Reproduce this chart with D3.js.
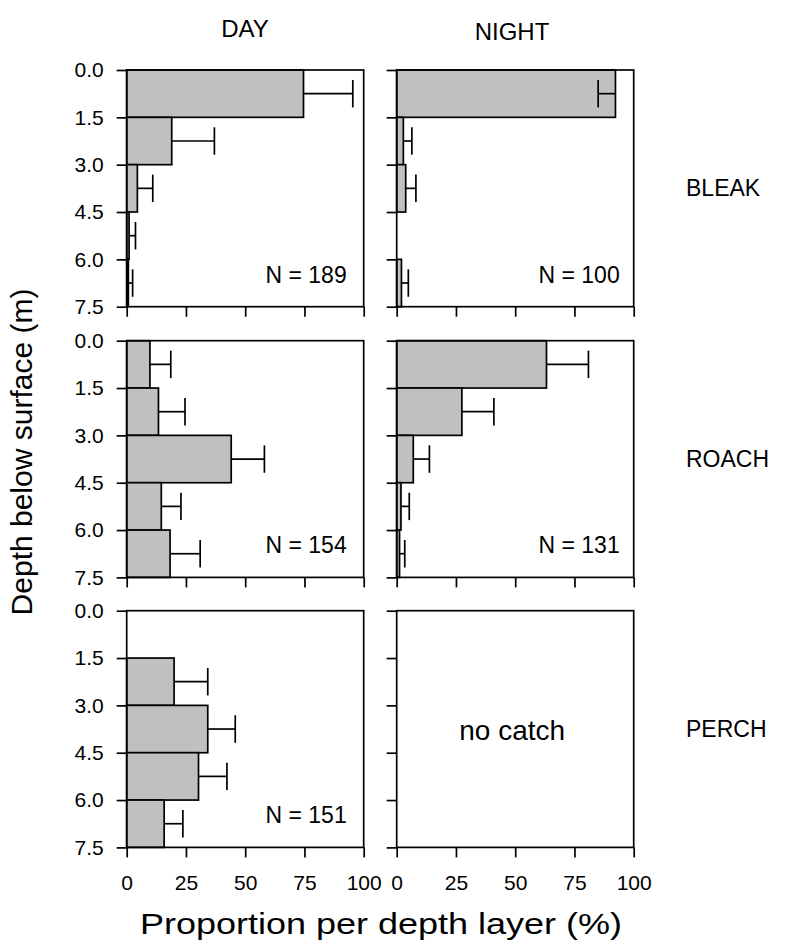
<!DOCTYPE html>
<html>
<head>
<meta charset="utf-8">
<script src="https://cdn.jsdelivr.net/npm/d3@7"></script>
<style>
  body { margin: 0; background: #fff; }
  text { font-family: "Liberation Sans", Arial, Helvetica, sans-serif; fill: #000; }
</style>
</head>
<body>
<svg id="chart" width="790" height="947"></svg>
<script>
// Depth layers (m) and axis ticks
const depthEdges = [0, 1.5, 3, 4.5, 6, 7.5];
const depthTickLabels = ["0.0", "1.5", "3.0", "4.5", "6.0", "7.5"];
const pctTicks = [0, 25, 50, 75, 100];

const periods = ["DAY", "NIGHT"];
const species = ["BLEAK", "ROACH", "PERCH"];

// Proportion of catch per depth layer (%), top layer first,
// and the end value of each error bar (null = no bar drawn)
const bleakDay      = [74.6, 19.0, 4.5, 1.0, 0.7];
const bleakDayErr   = [95.4, 37.0, 11.0, 3.7, 2.5];
const bleakNight    = [92.3, 2.8, 3.8, 0, 2.0];
const bleakNightErr = [85.0, 6.4, 8.1, null, 4.9];
const roachDay      = [9.8, 13.4, 44.1, 14.6, 18.3];
const roachDayErr   = [18.6, 24.6, 58.1, 22.9, 31.0];
const roachNight    = [63.2, 27.5, 7.0, 1.8, 1.2];
const roachNightErr = [80.9, 41.0, 13.8, 5.3, 3.4];
const perchDay      = [0, 20.0, 34.2, 30.3, 15.8];
const perchDayErr   = [null, 34.2, 45.8, 42.3, 23.7];

// Sample sizes per species (rows) and period (columns)
const sampleN = [[189, 100], [154, 131], [151, null]];

const panels = [
  [{ v: bleakDay, e: bleakDayErr }, { v: bleakNight, e: bleakNightErr }],
  [{ v: roachDay, e: roachDayErr }, { v: roachNight, e: roachNightErr }],
  [{ v: perchDay, e: perchDayErr }, null]
];

// Layout
const colX = [126.7, 396.7];
const panelW = 237;
const rowY = [70, 340.7, 610.7];
const panelH = 236.7;
const lw = 1.7;

const svg = d3.select("#chart");

panels.forEach((row, r) => {
  row.forEach((p, c) => {
    const x = d3.scaleLinear().domain([0, 100]).range([0, panelW]);
    const y = d3.scaleLinear().domain([0, 7.5]).range([0, panelH]);
    const g = svg.append("g").attr("transform", `translate(${colX[c]},${rowY[r]})`);

    if (p) {
      const layers = p.v.map((val, i) => ({ val, err: p.e[i], d0: depthEdges[i], d1: depthEdges[i + 1] }));
      const drawn = layers.filter(d => d.val > 0);

      // bars
      g.selectAll("rect.bar").data(drawn).join("rect")
        .attr("class", "bar")
        .attr("x", x(0))
        .attr("y", d => y(d.d0))
        .attr("width", d => x(d.val) - x(0))
        .attr("height", d => y(d.d1) - y(d.d0))
        .attr("fill", "#c0c0c0")
        .attr("stroke", "#000")
        .attr("stroke-width", lw);

      // error bars: stem from bar end, cap at error end
      const withErr = drawn.filter(d => d.err != null);
      const mid = d => (y(d.d0) + y(d.d1)) / 2;
      const capHalf = (y(1.5) - y(0)) * 0.29;
      g.selectAll("line.stem").data(withErr).join("line")
        .attr("x1", d => x(d.val)).attr("x2", d => x(d.err))
        .attr("y1", mid).attr("y2", mid)
        .attr("stroke", "#000").attr("stroke-width", lw);
      g.selectAll("line.cap").data(withErr).join("line")
        .attr("x1", d => x(d.err)).attr("x2", d => x(d.err))
        .attr("y1", d => mid(d) - capHalf).attr("y2", d => mid(d) + capHalf)
        .attr("stroke", "#000").attr("stroke-width", lw);
    }

    // frame
    g.append("rect")
      .attr("x", 0).attr("y", 0).attr("width", panelW).attr("height", panelH)
      .attr("fill", "none").attr("stroke", "#000").attr("stroke-width", lw);

    // depth axis
    const yAxis = d3.axisLeft(y).tickValues(depthEdges).tickSize(10).tickPadding(13).tickSizeOuter(0)
      .tickFormat((d, i) => c === 0 ? depthTickLabels[i] : "");
    const ya = g.append("g").call(yAxis);
    ya.select(".domain").remove();
    ya.selectAll("line").attr("stroke-width", lw);
    ya.selectAll("text").style("font-size", "21px").attr("font-family", null);

    // proportion axis
    const xAxis = d3.axisBottom(x).tickValues(pctTicks).tickSize(10).tickPadding(18).tickSizeOuter(0)
      .tickFormat(d => r === 2 ? d : "");
    const xa = g.append("g").attr("transform", `translate(0,${panelH})`).call(xAxis);
    xa.select(".domain").remove();
    xa.selectAll("line").attr("stroke-width", lw);
    xa.selectAll("text").style("font-size", "21px").attr("font-family", null);

    // sample size / empty-panel note
    const n = sampleN[r][c];
    if (n != null) {
      g.append("text")
        .attr("x", panelW - (c === 0 ? 17 : 14)).attr("y", 212.5)
        .attr("text-anchor", "end")
        .style("font-size", "23px")
        .text(`N = ${n}`);
    } else {
      g.append("text")
        .attr("x", panelW / 2 - 3).attr("y", 129.5)
        .attr("text-anchor", "middle")
        .style("font-size", "28px")
        .text("no catch");
    }
  });
});

// column titles
const titleX = [245, 512];
const titleY = [37, 40];
periods.forEach((t, c) => {
  svg.append("text")
    .attr("x", titleX[c]).attr("y", titleY[c])
    .attr("text-anchor", "middle")
    .style("font-size", "24px")
    .text(t);
});

// species labels
species.forEach((s, r) => {
  svg.append("text")
    .attr("x", 686).attr("y", rowY[r] + panelH / 2)
    .attr("dy", "0.35em")
    .style("font-size", "23px")
    .text(s);
});

// axis titles
svg.append("text")
  .attr("transform", "translate(32,452) rotate(-90)")
  .attr("text-anchor", "middle")
  .style("font-size", "30px")
  .text("Depth below surface (m)");

svg.append("text")
  .attr("transform", "translate(381,934) scale(1.2,1)")
  .attr("text-anchor", "middle")
  .style("font-size", "30px")
  .text("Proportion per depth layer (%)");
</script>
</body>
</html>
